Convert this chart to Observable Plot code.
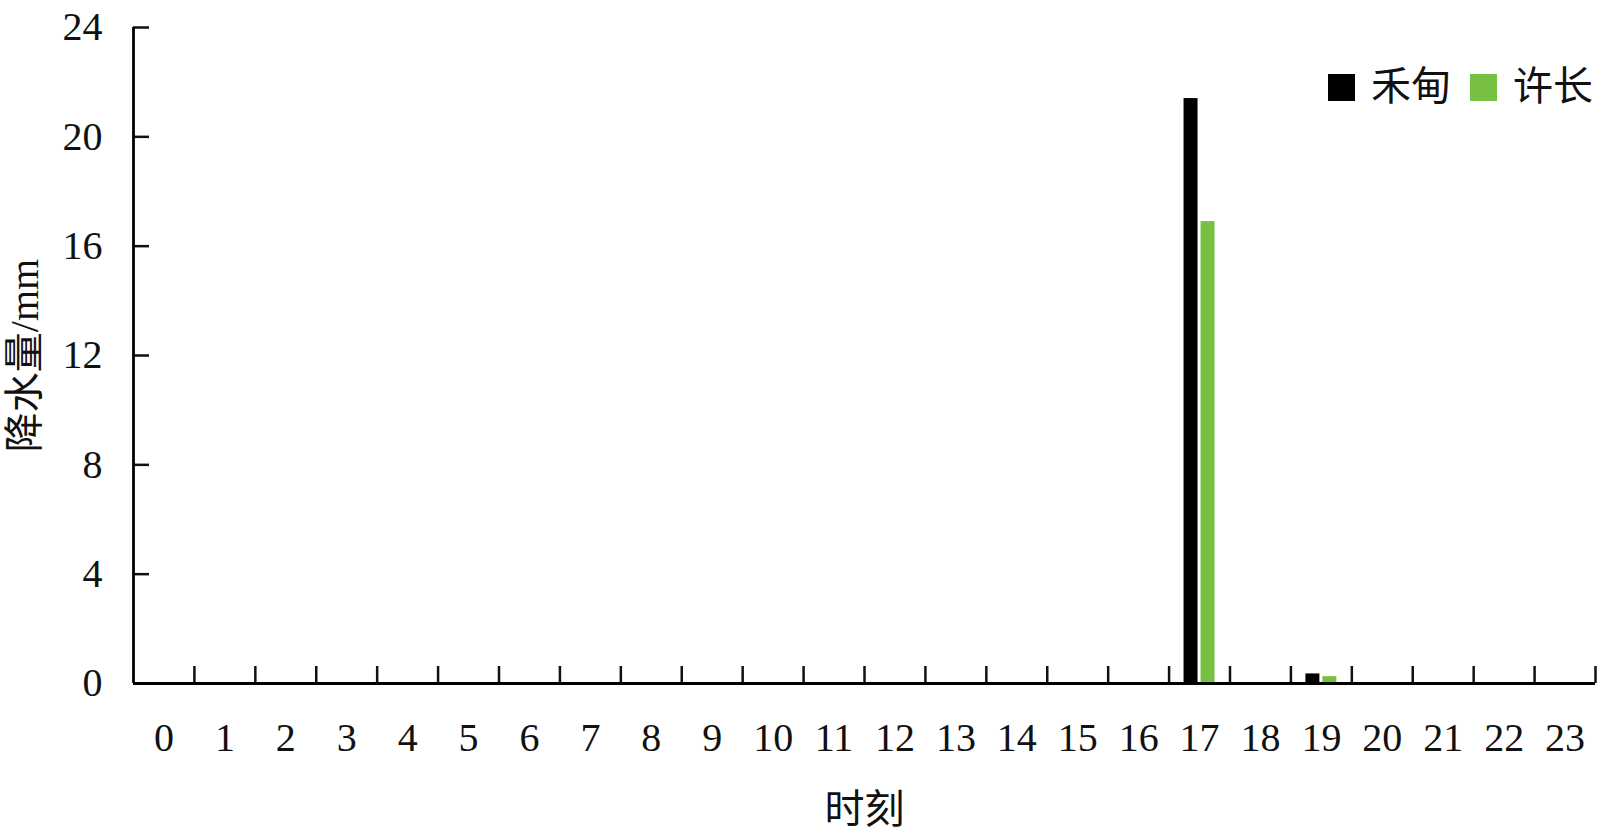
<!DOCTYPE html>
<html>
<head>
<meta charset="utf-8">
<script src="https://cdn.jsdelivr.net/npm/d3@7"></script>
<script src="https://cdn.jsdelivr.net/npm/@observablehq/plot@0.6"></script>
<style>
  html, body { margin: 0; padding: 0; background: #fff; }
  #wrap { position: relative; width: 1600px; height: 835px; font-family: "Liberation Serif", "Times New Roman", "Noto Sans CJK SC", serif; }
  .leg { position: absolute; display: flex; align-items: center; font-size: 40px; line-height: 1; color: #111; }
  .sw { width: 27px; height: 27px; display: inline-block; }
</style>
</head>
<body>
<div id="wrap"></div>
<script>
// ---- data ----
const hours = ["0","1","2","3","4","5","6","7","8","9","10","11","12","13","14","15","16","17","18","19","20","21","22","23"];
const seriesNames = ["禾甸", "许长"];
const heDian  = [0,0,0,0,0,0,0,0,0,0,0,0,0,0,0,0,0,21.4,0,0.35,0,0,0,0];
const xuChang = [0,0,0,0,0,0,0,0,0,0,0,0,0,0,0,0,0,16.9,0,0.25,0,0,0,0];
const yTicks = [0,4,8,12,16,20,24];
const colors = ["#000000", "#78c043"];

const rows = [];
hours.forEach((h, i) => {
  rows.push({hour: h, series: seriesNames[0], value: heDian[i]});
  rows.push({hour: h, series: seriesNames[1], value: xuChang[i]});
});

// ---- layout ----
const W = 1600, H = 835;
const mL = 133, mR = 5, mT = 27, mB = 152;
const step = (W - mL - mR) / hours.length;
const half = step / 2;
const barW = 14, gap = 3;
const font = "'Liberation Serif', 'Times New Roman', 'Noto Sans CJK SC', serif";

const chart = Plot.plot({
  width: W,
  height: H,
  marginLeft: mL, marginRight: mR, marginTop: mT, marginBottom: mB,
  style: {fontFamily: font, fontSize: "40px", color: "#111", background: "transparent"},
  x: {type: "band", domain: hours, paddingInner: 0, paddingOuter: 0, round: false},
  y: {domain: [0, 24]},
  marks: [
    Plot.barY(rows.filter(d => d.series === seriesNames[0]), {
      x: "hour", y: "value", fill: colors[0],
      insetLeft: half - gap / 2 - barW, insetRight: half + gap / 2
    }),
    Plot.barY(rows.filter(d => d.series === seriesNames[1]), {
      x: "hour", y: "value", fill: colors[1],
      insetLeft: half + gap / 2, insetRight: half - gap / 2 - barW
    }),
    Plot.axisY({
      ticks: yTicks, tickFormat: d => String(d),
      tickSize: -16, tickPadding: 47, strokeWidth: 2.5,
      fontSize: 40, fontFamily: font,
      label: "降水量/mm", labelAnchor: "center", labelArrow: "none", labelOffset: 124
    }),
    Plot.axisX({
      tickSize: 0, tickPadding: 39, strokeWidth: 2.5,
      fontSize: 40, fontFamily: font,
      label: "时刻", labelAnchor: "center", labelArrow: "none", labelOffset: 139
    }),
    Plot.axisX({
      ticks: hours, text: null, label: null,
      tickSize: -17, strokeWidth: 2.5, dx: half
    }),
    // axis lines
    Plot.ruleY([0], {stroke: "#000", strokeWidth: 2.8}),
    Plot.ruleX([hours[0]], {y1: 0, y2: 24, dx: -half, stroke: "#000", strokeWidth: 2.8})
  ]
});

const wrap = document.getElementById("wrap");
wrap.appendChild(chart);

// legend (top-right inside plot area)
const legendPos = [1328, 1470];
seriesNames.forEach((name, i) => {
  const item = document.createElement("div");
  item.className = "leg";
  item.style.left = legendPos[i] + "px";
  item.style.top = "66px";
  item.style.height = "42px";
  const sw = document.createElement("span");
  sw.className = "sw";
  sw.style.background = colors[i];
  sw.style.marginRight = "16px";
  const t = document.createElement("span");
  t.textContent = name;
  item.appendChild(sw);
  item.appendChild(t);
  wrap.appendChild(item);
});
</script>
</body>
</html>
